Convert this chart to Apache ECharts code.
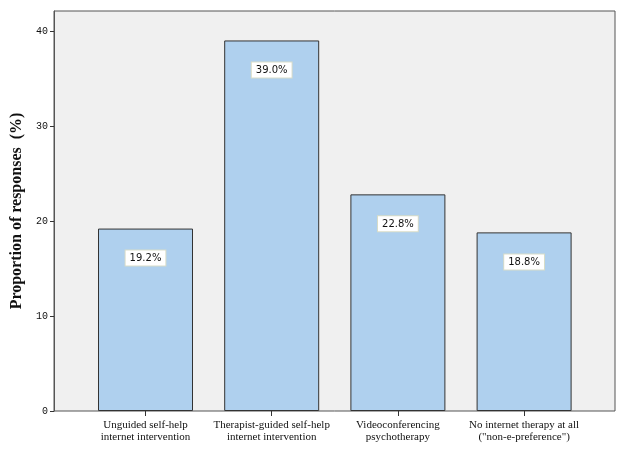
<!DOCTYPE html>
<html><head><meta charset="utf-8">
<script src="https://cdn.jsdelivr.net/npm/echarts@6/dist/echarts.min.js"></script>
<style>html,body{margin:0;padding:0;background:#fff}#c{width:622px;height:449px}</style>
</head><body><div id="c"></div>
<script>
const categories = ["Unguided self-help\ninternet intervention","Therapist-guided self-help\ninternet intervention","Videoconferencing\npsychotherapy","No internet therapy at all\n(\"non-e-preference\")"];
const values = [19.2, 39.0, 22.8, 18.8];
const yTicks = [0, 10, 20, 30, 40];
const chart = echarts.init(document.getElementById('c'));
chart.setOption({
  animation: false,
  grid: [
    {left: 54, right: 7, top: 11, bottom: 38, show: true, backgroundColor: '#f0f0f0', borderColor: '#555', borderWidth: 1, containLabel: false, outerBoundsMode: 'none'},
    {left: 82.4, right: 34.8, top: 11, bottom: 38, containLabel: false, outerBoundsMode: 'none'}
  ],
  xAxis: [
    {gridIndex: 0, type: 'value', min: 0, max: 1, show: false},
    {gridIndex: 1, type: 'category', data: categories,
     axisLine: {show: false},
     axisTick: {show: true, alignWithLabel: true, length: 5, lineStyle: {color: '#333'}},
     axisLabel: {fontFamily: 'Liberation Serif', fontSize: 11, color: '#111', lineHeight: 12, margin: 8, interval: 0}}
  ],
  yAxis: [
    {gridIndex: 0, type: 'value', min: 0, max: 42.1, interval: 10,
     name: 'Proportion of responses  (%)', nameLocation: 'middle', nameGap: 29,
     nameTextStyle: {fontFamily: 'Liberation Serif', fontWeight: 'bold', fontSize: 16, color: '#111'},
     axisLine: {show: true, lineStyle: {color: '#555'}},
     axisTick: {show: true, length: 4, lineStyle: {color: '#333'}, customValues: yTicks},
     splitLine: {show: false},
     axisLabel: {fontFamily: 'Liberation Mono', fontSize: 10, color: '#111', margin: 6, customValues: yTicks}},
    {gridIndex: 1, type: 'value', min: 0, max: 42.1, show: false}
  ],
  series: [{
    type: 'bar', xAxisIndex: 1, yAxisIndex: 1, data: values, barWidth: 95,
    itemStyle: {color: '#afd0ee', borderColor: '#333', borderWidth: 1},
    label: {show: true, position: 'insideTop', distance: 22,
      formatter: p => p.value.toFixed(1) + '%',
      fontFamily: 'DejaVu Sans', fontSize: 10, color: '#111',
      backgroundColor: '#fff', borderColor: '#d8dcc8', borderWidth: 1, padding: [3, 4, 2, 4]}
  }]
});
</script></body></html>
